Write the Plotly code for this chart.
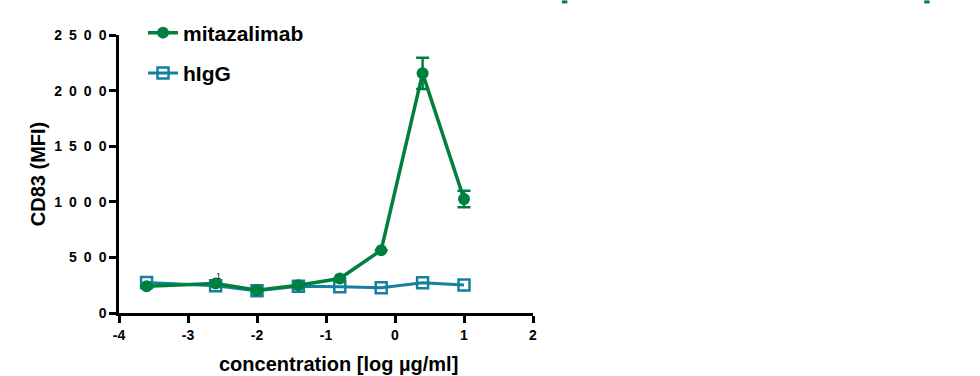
import plotly.graph_objects as go

conc = [-3.6, -2.6, -2.0, -1.4, -0.8, -0.2, 0.4, 1.0]
mitazalimab = [240, 265, 205, 250, 310, 565, 2155, 1025]
mitazalimab_err = [0, 0, 0, 0, 0, 0, 140, 75]
higg = [275, 245, 200, 240, 235, 228, 272, 252]

x_ticks = [-4, -3, -2, -1, 0, 1, 2]
x_ticktext = [str(v) for v in x_ticks]
y_ticks = [0, 500, 1000, 1500, 2000, 2500]
y_ticktext = ["\u2002".join(str(v)) for v in y_ticks]

GREEN = "#00803E"
BLUE = "#14809F"
FONT = "Liberation Sans, Arial, sans-serif"

fig = go.Figure()
fig.add_trace(go.Scatter(
    x=conc, y=higg, name="<b>hIgG</b>", legendrank=2, legendgroup="g2",
    mode="lines+markers",
    line=dict(color=BLUE, width=3),
    marker=dict(symbol="square-open", size=11, color=BLUE,
                line=dict(width=2.5, color=BLUE)),
    cliponaxis=False,
))
fig.add_trace(go.Scatter(
    x=conc, y=mitazalimab, name="<b>mitazalimab</b>", legendrank=1, legendgroup="g1",
    mode="lines+markers",
    line=dict(color=GREEN, width=3.5),
    marker=dict(symbol="circle", size=12, color=GREEN),
    error_y=dict(type="data", array=mitazalimab_err, visible=True,
                 color=GREEN, thickness=2.5, width=6.5),
    cliponaxis=False,
))

fig.add_annotation(x=-2.555, y=332, text="1", showarrow=False,
                   font=dict(family=FONT, size=9, color="#222"))

fig.add_annotation(x=0.53, xref="paper", y=0, yref="paper", yshift=-64,
                   text="<b>concentration [log µg/ml]</b>", showarrow=False,
                   font=dict(family=FONT, size=20, color="black"))

for px in [1.07, 1.945]:
    fig.add_shape(type="line", xref="paper", yref="paper",
                  x0=px, x1=px + 0.013, y0=1.119, y1=1.119,
                  line=dict(color=GREEN, width=3))

fig.update_layout(
    width=980, height=376,
    margin=dict(l=119, r=447, t=34.5, b=63.25, autoexpand=False),
    plot_bgcolor="white", paper_bgcolor="white",
    showlegend=True,
    legend=dict(x=0.058, y=1.081, xanchor="left", yanchor="top",
                traceorder="grouped", tracegroupgap=10,
                font=dict(family=FONT, size=21, color="black"),
                bgcolor="rgba(0,0,0,0)"),
    font=dict(family=FONT, color="black"),
    xaxis=dict(range=[-4, 2], tickvals=x_ticks, ticktext=x_ticktext,
               showgrid=False, zeroline=False,
               showline=True, linecolor="black", linewidth=2.5,
               ticks="outside", ticklen=7, tickwidth=2.5, tickcolor="black",
               tickfont=dict(family=FONT, size=14, color="black", weight=700)),
    yaxis=dict(range=[0, 2500], tickvals=y_ticks, ticktext=y_ticktext,
               showgrid=False, zeroline=False,
               showline=True, linecolor="black", linewidth=2.5,
               ticks="outside", ticklen=7, tickwidth=2.5, tickcolor="black",
               tickfont=dict(family=FONT, size=14, color="black", weight=700),
               title=dict(text="<b>CD83 (MFI)</b>", standoff=4,
                          font=dict(family=FONT, size=20, color="black"))),
)

fig.write_html("out.html",
               config={"displayModeBar": False},
               post_script="document.body.style.margin='0px';")
